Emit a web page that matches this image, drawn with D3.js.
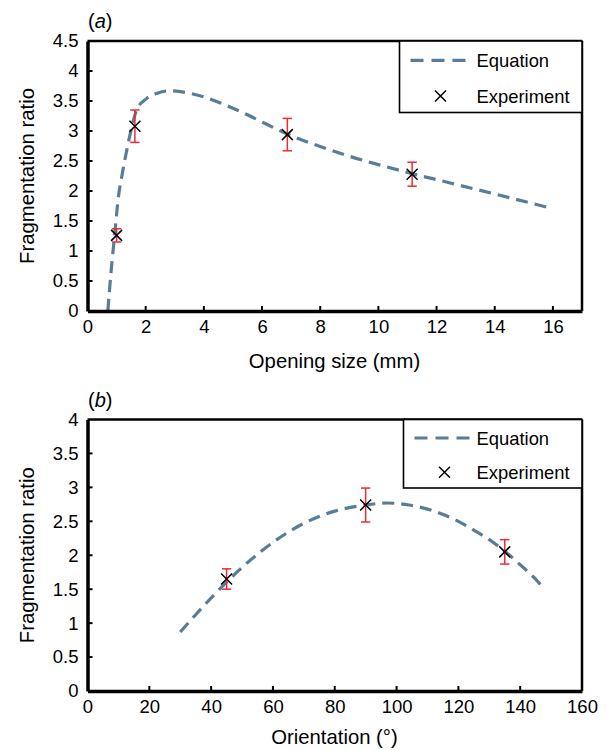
<!DOCTYPE html>
<html><head><meta charset="utf-8">
<script src="https://cdn.jsdelivr.net/npm/d3@7/dist/d3.min.js"></script>
<style>
body{margin:0;background:#fff;}
text{font-family:"Liberation Sans",Arial,Helvetica,sans-serif;fill:#000;}
</style></head>
<body><svg id="c" width="607" height="750"></svg>
<script>
// ---- Panel (a): opening size ----
const aEqX = [0.7, 0.8, 0.93, 1.05, 1.2, 1.35, 1.5, 1.69, 2.03, 2.4, 2.8, 3.5, 4.0, 4.5, 5.0, 5.5, 6.0, 6.87, 8.0, 9.0, 10.0, 11.16, 12.5, 14.0, 15.8];
const aEqY = [0, 0.6, 1.25, 1.85, 2.3, 2.68, 3.02, 3.35, 3.54, 3.63, 3.67, 3.63, 3.57, 3.48, 3.38, 3.27, 3.15, 2.95, 2.74, 2.58, 2.44, 2.29, 2.13, 1.95, 1.73];
const aExpX = [1.0, 1.63, 6.87, 11.16];
const aExpY = [1.26, 3.08, 2.94, 2.28];
const aExpErr = [0.11, 0.27, 0.27, 0.2];
const aXTicks = [0, 2, 4, 6, 8, 10, 12, 14, 16];
const aYTicks = [0, 0.5, 1, 1.5, 2, 2.5, 3, 3.5, 4, 4.5];

// ---- Panel (b): orientation ----
const bEqX = [30, 40, 50, 60, 70, 80, 90, 97, 104, 110, 114, 120, 125, 130, 135, 140, 144.3, 147.5];
const bEqY = [0.87, 1.37, 1.82, 2.19, 2.47, 2.65, 2.74, 2.77, 2.74, 2.68, 2.62, 2.5, 2.37, 2.23, 2.06, 1.86, 1.68, 1.52];
const bExpX = [45, 90, 135];
const bExpY = [1.65, 2.74, 2.05];
const bExpErr = [0.15, 0.25, 0.18];
const bXTicks = [0, 20, 40, 60, 80, 100, 120, 140, 160];
const bYTicks = [0, 0.5, 1, 1.5, 2, 2.5, 3, 3.5, 4];

const lineColor = "#587d98";
const errColor = "#ee2a32";
const FONT = '"Liberation Sans",Arial,Helvetica,sans-serif';
const svg = d3.select("#c");

function panel(cfg) {
  const g = svg.append("g");
  const x = d3.scaleLinear().domain(cfg.xDom).range([87.5, 582]);
  const y = d3.scaleLinear().domain(cfg.yDom).range([cfg.bottom, cfg.top]);

  // equation curve
  const line = d3.line().x((d,i)=>x(cfg.eqX[i])).y((d,i)=>y(cfg.eqY[i])).curve(d3.curveMonotoneX);
  g.append("path").datum(cfg.eqX).attr("d", line)
    .attr("fill","none").attr("stroke",lineColor).attr("stroke-width",3.2)
    .attr("stroke-dasharray","12,7");

  // error bars
  cfg.expX.forEach((xv,i)=>{
    const cx = x(xv), y1 = y(cfg.expY[i]+cfg.err[i]), y2 = y(cfg.expY[i]-cfg.err[i]);
    g.append("line").attr("x1",cx).attr("x2",cx).attr("y1",y1).attr("y2",y2).attr("stroke",errColor).attr("stroke-width",1.5);
    [y1,y2].forEach(yy=>g.append("line").attr("x1",cx-4.7).attr("x2",cx+4.7).attr("y1",yy).attr("y2",yy).attr("stroke",errColor).attr("stroke-width",1.5));
  });
  // markers
  const cross = (gg,cx,cy,r)=>{
    gg.append("path").attr("d",`M${cx-r},${cy-r}L${cx+r},${cy+r}M${cx-r},${cy+r}L${cx+r},${cy-r}`)
      .attr("stroke","#000").attr("stroke-width",1.5).attr("fill","none");
  };
  cfg.expX.forEach((xv,i)=>cross(g,x(xv),y(cfg.expY[i]),5.5));

  // frame: top & right thinner
  g.append("line").attr("x1",x.range()[0]).attr("x2",x.range()[1]).attr("y1",cfg.top).attr("y2",cfg.top).attr("stroke","#000").attr("stroke-width",2.5);
  g.append("line").attr("x1",582).attr("x2",582).attr("y1",cfg.top).attr("y2",cfg.bottom).attr("stroke","#000").attr("stroke-width",2.5);

  // axes
  const xAxis = d3.axisBottom(x).tickValues(cfg.xTicks).tickSize(0).tickPadding(9).tickFormat(d3.format("d"));
  const xa = g.append("g").attr("transform",`translate(0,${cfg.bottom})`).call(xAxis);
  xa.attr("font-size",18.5).attr("font-family",FONT);
  xa.select(".domain").attr("stroke","#000").attr("stroke-width",3.5);
  xa.selectAll("text").attr("fill","#000");
  cfg.xTicks.filter(t=>t!==cfg.xDom[0]).forEach(t=>{
    g.append("line").attr("x1",x(t)).attr("x2",x(t)).attr("y1",cfg.bottom).attr("y2",cfg.bottom-5).attr("stroke","#000").attr("stroke-width",2);
  });
  const yAxis = d3.axisLeft(y).tickValues(cfg.yTicks).tickSize(0).tickPadding(9).tickFormat(d=>String(d));
  const ya = g.append("g").attr("transform",`translate(87.5,0)`).call(yAxis);
  ya.attr("font-size",18.5).attr("font-family",FONT);
  ya.select(".domain").attr("stroke","#000").attr("stroke-width",3.5);
  ya.selectAll("text").attr("fill","#000");
  cfg.yTicks.filter(t=>t!==cfg.yDom[0] && t!==cfg.yDom[1]).forEach(t=>{
    g.append("line").attr("x1",87.5).attr("x2",92.5).attr("y1",y(t)).attr("y2",y(t)).attr("stroke","#000").attr("stroke-width",2);
  });

  // axis titles
  g.append("text").attr("x",334.5).attr("y",cfg.xTitleY).attr("text-anchor","middle").attr("font-size",20.3).text(cfg.xTitle);
  g.append("text").attr("transform",`translate(34,${(cfg.top+cfg.bottom)/2}) rotate(-90)`).attr("text-anchor","middle").attr("font-size",20.3).text("Fragmentation ratio");

  // panel label
  const pl = g.append("text").attr("x",88).attr("y",cfg.top-13).attr("font-size",20);
  pl.append("tspan").text("(");
  pl.append("tspan").attr("font-style","italic").text(cfg.label);
  pl.append("tspan").text(")");

  // legend
  const L = cfg.legend;
  g.append("rect").attr("x",L.x).attr("y",cfg.top).attr("width",582-L.x).attr("height",L.h)
    .attr("fill","#fff").attr("stroke","#000").attr("stroke-width",1.6);
  const ly1 = cfg.top+L.h*0.27, ly2 = cfg.top+L.h*0.77;
  g.append("line").attr("x1",L.x+11).attr("x2",L.x+70).attr("y1",ly1).attr("y2",ly1)
    .attr("stroke",lineColor).attr("stroke-width",3.2).attr("stroke-dasharray","13,8");
  g.append("text").attr("x",476.5).attr("y",ly1+6.6).attr("font-size",18.4).text("Equation");
  cross(g, L.x+41, ly2, 5.5);
  g.append("text").attr("x",476.5).attr("y",ly2+6.6).attr("font-size",18.4).text("Experiment");
}

panel({xDom:[0,17], yDom:[0,4.5], top:41, bottom:311, eqX:aEqX, eqY:aEqY, expX:aExpX, expY:aExpY, err:aExpErr,
  xTicks:aXTicks, yTicks:aYTicks, xTitle:"Opening size (mm)", xTitleY:368, label:"a", legend:{x:399.5, h:71.5}});
panel({xDom:[0,160], yDom:[0,4], top:419.5, bottom:691, eqX:bEqX, eqY:bEqY, expX:bExpX, expY:bExpY, err:bExpErr,
  xTicks:bXTicks, yTicks:bYTicks, xTitle:"Orientation (°)", xTitleY:744, label:"b", legend:{x:403.5, h:68.5}});
</script></body></html>
